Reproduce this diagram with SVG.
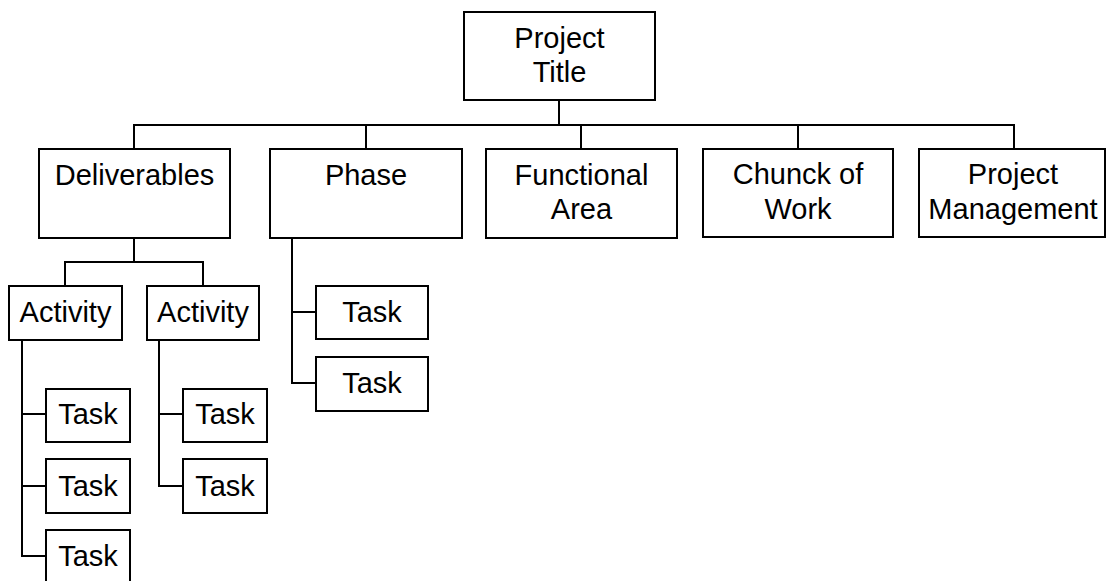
<svg xmlns="http://www.w3.org/2000/svg" width="1106" height="581" viewBox="0 0 1106 581">
  <style>
    .box { fill: #ffffff; stroke: #000000; stroke-width: 2; }
    .wire { fill: none; stroke: #000000; stroke-width: 2; }
    text { font-family: "Liberation Sans", Arial, sans-serif; font-size: 29px; fill: #000000; text-anchor: middle; }
  </style>
  <rect width="1106" height="581" fill="#ffffff"/>

  <!-- connectors -->
  <g id="connectors" class="wire">
    <path d="M559 100 V125 M134 149 V125 H1014 V149 M366 125 V149 M581 125 V149 M798 125 V149"/>
    <path d="M134 238 V262 M65 286 V262 H203 V286"/>
    <path d="M22 340 V556 H46 M22 414 H46 M22 486 H46"/>
    <path d="M159 340 V486 H183 M159 414 H183"/>
    <path d="M292 238 V383 H316 M292 312 H316"/>
  </g>

  <g id="project-title">
    <rect class="box" x="464" y="12" width="191" height="88"/>
    <text x="559.5" y="48">Project</text>
    <text x="559.5" y="82">Title</text>
  </g>

  <g id="deliverables">
    <rect class="box" x="39" y="149" width="191" height="89"/>
    <text x="134.5" y="185">Deliverables</text>
  </g>
  <g id="phase">
    <rect class="box" x="270" y="149" width="192" height="89"/>
    <text x="366" y="185">Phase</text>
  </g>
  <g id="functional-area">
    <rect class="box" x="486" y="149" width="191" height="89"/>
    <text x="581.5" y="185">Functional</text>
    <text x="581.5" y="219">Area</text>
  </g>
  <g id="chunck-of-work">
    <rect class="box" x="703" y="149" width="190" height="88"/>
    <text x="798" y="184">Chunck of</text>
    <text x="798" y="219">Work</text>
  </g>
  <g id="project-management">
    <rect class="box" x="919" y="149" width="186" height="88"/>
    <text x="1013" y="184">Project</text>
    <text x="1013" y="219">Management</text>
  </g>

  <g id="activity-1">
    <rect class="box" x="9" y="286" width="113" height="54"/>
    <text x="65.5" y="322">Activity</text>
  </g>
  <g id="activity-2">
    <rect class="box" x="147" y="286" width="112" height="54"/>
    <text x="203" y="322">Activity</text>
  </g>

  <g id="task-a1-1">
    <rect class="box" x="46" y="389" width="84" height="53"/>
    <text x="88" y="424">Task</text>
  </g>
  <g id="task-a1-2">
    <rect class="box" x="46" y="459" width="84" height="54"/>
    <text x="88" y="496">Task</text>
  </g>
  <g id="task-a1-3">
    <rect class="box" x="46" y="530" width="84" height="54"/>
    <text x="88" y="566">Task</text>
  </g>

  <g id="task-a2-1">
    <rect class="box" x="183" y="389" width="84" height="53"/>
    <text x="225" y="424">Task</text>
  </g>
  <g id="task-a2-2">
    <rect class="box" x="183" y="459" width="84" height="54"/>
    <text x="225" y="496">Task</text>
  </g>

  <g id="task-p-1">
    <rect class="box" x="316" y="286" width="112" height="53"/>
    <text x="372" y="322">Task</text>
  </g>
  <g id="task-p-2">
    <rect class="box" x="316" y="357" width="112" height="54"/>
    <text x="372" y="393">Task</text>
  </g>
</svg>
